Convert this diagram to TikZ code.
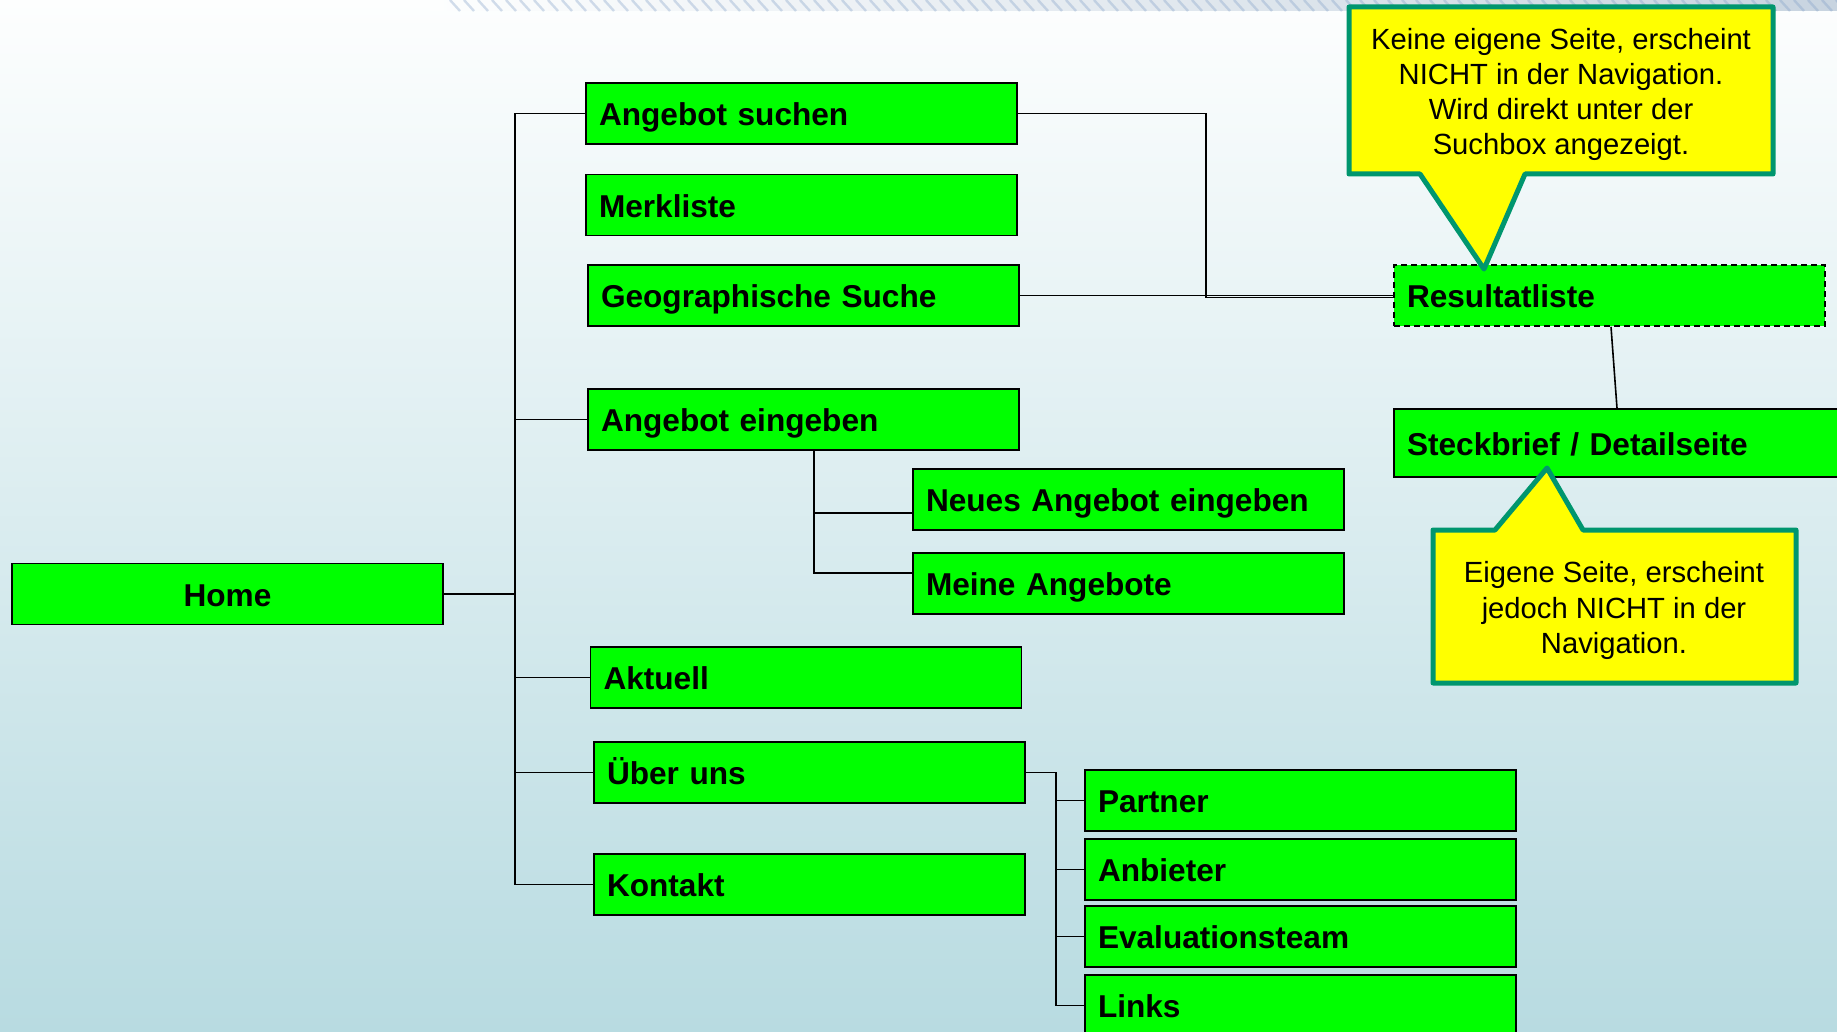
\documentclass[tikz,border=0pt]{standalone}
\usepackage{fontspec}
\setmainfont{Liberation Sans}
\usetikzlibrary{calc}
\definecolor{boxgreen}{RGB}{0,255,0}
\definecolor{calloutyellow}{RGB}{255,255,0}
\definecolor{calloutedge}{RGB}{0,150,110}
\definecolor{bgtop}{RGB}{253,254,254}
\definecolor{bgbottom}{RGB}{184,219,225}
\definecolor{stripgray}{RGB}{200,212,224}
\definecolor{stripblue}{RGB}{130,160,200}
\begin{document}
\begin{tikzpicture}[x=0.5pt,y=-0.5pt,
  pagebox/.style={draw=black, line width=0.8pt, fill=boxgreen, minimum height=30.5pt,
    text width=202.5pt, inner xsep=6.5pt, inner ysep=0pt, align=left,
    text height=12.3pt, text depth=0pt,
    font=\fontsize{15.8}{19}\selectfont\bfseries},
  conn/.style={draw=black, line width=0.8pt},
  calloutshape/.style={fill=calloutyellow, draw=calloutedge, line width=2.5pt, line join=round},
  callouttext/.style={align=center, inner sep=0pt, font=\fontsize{14.6}{17.6}\selectfont}]
\clip (0,0) rectangle (1837,1032);
% background
\shade[top color=bgtop, bottom color=bgbottom] (0,0) rectangle (1837,1032);
\shade[left color=bgtop, right color=stripgray] (430,0) rectangle (1837,11);
\foreach \i in {450,464,...,1837} {
  \draw[stripblue, line width=1.2pt, opacity=0.35] (\i,0) -- (\i+10,11);
}
% nodes
\node[pagebox, align=center] (home) at (227.5,594) {Home};
\node[pagebox] (as) at (801.5,113.5) {Angebot suchen};
\node[pagebox] (mk) at (801.5,205) {Merkliste};
\node[pagebox] (geo) at (803.5,295.5) {Geographische Suche};
\node[pagebox] (ae) at (803.5,419.5) {Angebot eingeben};
\node[pagebox] (neu) at (1128.5,499.5) {Neues Angebot eingeben};
\node[pagebox] (mei) at (1128.5,583.5) {Meine Angebote};
\node[pagebox] (akt) at (806,677.5) {Aktuell};
\node[pagebox] (ueber) at (809.5,772.5) {Über uns};
\node[pagebox] (kon) at (809.5,884.5) {Kontakt};
\node[pagebox] (par) at (1300.5,800.5) {Partner};
\node[pagebox] (anb) at (1300.5,869.5) {Anbieter};
\node[pagebox] (eva) at (1300.5,936.5) {Evaluationsteam};
\node[pagebox] (lin) at (1300.5,1005.5) {Links};
\node[pagebox, dashed, dash pattern=on 3pt off 2pt] (res) at (1609.5,295.5) {Resultatliste};
\node[pagebox, text width=212.5pt, minimum height=34pt] (stk) at (1619.5,443) {Steckbrief / Detailseite};
% connector guide coordinates
\coordinate (tx) at (515,0);
\coordinate (ax) at (814,0);
\coordinate (ux) at (1056,0);
\coordinate (rx) at (1206,0);
% main trunk
\draw[conn] (as.west) -- (as.west -| tx) -- (kon.west -| tx) -- (kon.west);
\draw[conn, line width=1.1pt] (home.east) -- (home.east -| tx);
\draw[conn] (ae.west) -- (ae.west -| tx);
\draw[conn] (akt.west) -- (akt.west -| tx);
\draw[conn] (ueber.west) -- (ueber.west -| tx);
% Angebot eingeben subtree
\draw[conn] (ae.south -| ax) -- ([yshift=5.25pt]mei.west -| ax) -- ([yshift=5.25pt]mei.west);
\draw[conn] ([yshift=-6.75pt]neu.west) -- ([yshift=-6.75pt]neu.west -| ax);
% Über uns subtree
\draw[conn] (ueber.east) -- (ueber.east -| ux) -- (lin.west -| ux) -- (lin.west);
\draw[conn] (par.west) -- (par.west -| ux);
\draw[conn] (anb.west) -- (anb.west -| ux);
\draw[conn] (eva.west) -- (eva.west -| ux);
% Resultatliste
\draw[conn] (as.east) -- (as.east -| rx) -- ([yshift=-1pt]res.west -| rx) -- ([yshift=-1pt]res.west);
\draw[conn] (geo.east) -- (res.west);
\draw[conn] ([xshift=0.75pt]res.south) -- ([xshift=-1.25pt]stk.north);
% callouts
\draw[calloutshape] (1349,7) -- (1773,7) -- (1773,174) -- (1525,174) -- (1484,269) -- (1420,174) -- (1349,174) -- cycle;
\node[callouttext] (c1) at (1561,94.5) {Keine eigene Seite, erscheint\\NICHT in der Navigation.\\Wird direkt unter der\\Suchbox angezeigt.};
\draw[calloutshape] (1433,530) -- (1495,530) -- (1547,468) -- (1583,530) -- (1796,530) -- (1796,683) -- (1433,683) -- cycle;
\node[callouttext] (c2) at (1614,610.5) {Eigene Seite, erscheint\\jedoch NICHT in der\\Navigation.};
\end{tikzpicture}
\end{document}
